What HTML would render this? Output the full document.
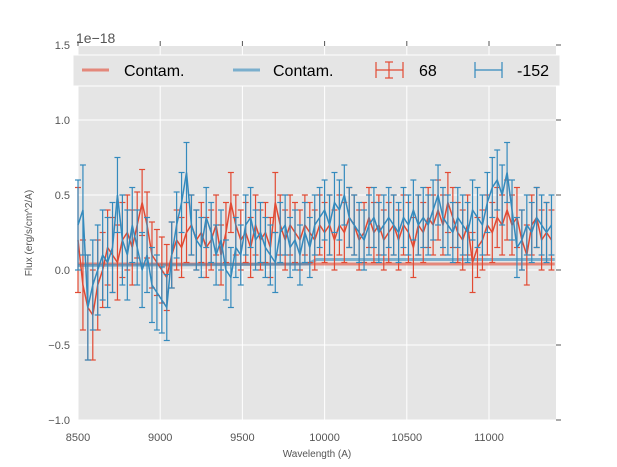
<!DOCTYPE html>
<html><head><meta charset="utf-8"><style>
body{margin:0;background:#fff;}
svg{display:block;font-family:"Liberation Sans",sans-serif;}
</style></head><body>
<svg id="chart" width="617" height="467">
<rect x="78" y="46" width="478" height="374" fill="#e5e5e5"/>
<g id="grid"></g><g id="ticks"></g><g id="series"></g>
<text x="76" y="43" font-size="14" fill="#555">1e−18</text>
<text x="317" y="457" font-size="10" fill="#555" text-anchor="middle">Wavelength (A)</text>
<text transform="translate(32,233) rotate(-90)" font-size="10" fill="#555" text-anchor="middle">Flux (erg/s/cm^2/A)</text>
<g>
<rect x="73" y="55" width="487" height="31" fill="#e5e5e5" stroke="#fff" stroke-width="1"/>
<line x1="82" y1="70" x2="109" y2="70" stroke="#E24A33" stroke-opacity="0.6" stroke-width="3"/>
<text x="124" y="76" font-size="16">Contam.</text>
<line x1="233" y1="70" x2="260" y2="70" stroke="#348ABD" stroke-opacity="0.6" stroke-width="3"/>
<text x="273" y="76" font-size="16">Contam.</text>
<g stroke="#E24A33" stroke-width="1.2"><line x1="376" y1="70" x2="403" y2="70"/><line x1="389" y1="62" x2="389" y2="78"/><line x1="385" y1="62" x2="393" y2="62"/><line x1="385" y1="78" x2="393" y2="78"/><line x1="376" y1="62" x2="376" y2="78"/><line x1="403" y1="62" x2="403" y2="78"/></g>
<text x="419" y="76" font-size="16">68</text>
<g stroke="#348ABD" stroke-width="1.2"><line x1="475" y1="70" x2="502" y2="70"/><line x1="475" y1="62" x2="475" y2="78"/><line x1="502" y1="62" x2="502" y2="78"/></g>
<text x="517" y="76" font-size="16">-152</text>
</g>
</svg>
<script>
const xTicks=[8500,9000,9500,10000,10500,11000];
const yTicks=[-1.0,-0.5,0.0,0.5,1.0,1.5];
const yTickLabels=["−1.0","−0.5","0.0","0.5","1.0","1.5"];
const wlStart=8500, wlStep=30;
const flux68=[0.2,-0.1,-0.25,-0.3,-0.1,0.0,0.15,0.1,0.05,0.2,0.25,0.15,0.3,0.45,0.3,0.1,0.05,0.0,-0.05,0.1,0.2,0.15,0.25,0.3,0.2,0.25,0.15,0.2,0.3,0.1,0.25,0.45,0.3,0.2,0.25,0.15,0.3,0.2,0.25,0.15,0.45,0.3,0.2,0.3,0.25,0.2,0.3,0.25,0.2,0.3,0.25,0.3,0.2,0.3,0.25,0.35,0.3,0.2,0.25,0.35,0.25,0.3,0.2,0.25,0.3,0.2,0.3,0.25,0.15,0.3,0.25,0.35,0.3,0.4,0.3,0.45,0.35,0.25,0.2,0.3,0.05,0.15,0.2,0.3,0.25,0.35,0.3,0.4,0.3,0.35,0.2,0.1,0.3,0.35,0.2,0.25,0.2];
const err68=[0.35,0.3,0.35,0.3,0.3,0.25,0.25,0.25,0.25,0.25,0.25,0.25,0.22,0.22,0.22,0.22,0.22,0.22,0.22,0.22,0.2,0.2,0.2,0.2,0.2,0.2,0.2,0.2,0.2,0.2,0.2,0.2,0.2,0.2,0.2,0.2,0.2,0.2,0.2,0.2,0.2,0.2,0.2,0.2,0.2,0.2,0.2,0.2,0.2,0.2,0.2,0.2,0.2,0.2,0.2,0.2,0.2,0.2,0.2,0.2,0.2,0.2,0.2,0.2,0.2,0.2,0.2,0.2,0.2,0.2,0.2,0.2,0.2,0.2,0.2,0.2,0.2,0.2,0.2,0.2,0.2,0.2,0.2,0.2,0.2,0.2,0.2,0.2,0.2,0.2,0.2,0.2,0.2,0.2,0.2,0.2,0.2];
const flux152=[0.3,0.4,-0.25,-0.1,0.0,0.1,0.05,0.15,0.5,0.2,0.1,0.3,0.15,0.0,0.1,-0.1,-0.15,-0.2,-0.25,0.1,0.3,0.45,0.65,0.3,0.2,0.15,0.35,0.25,0.1,0.2,0.0,-0.05,0.15,0.1,0.3,0.35,0.2,0.25,0.15,0.1,0.05,0.25,0.3,0.15,0.2,0.1,0.25,0.15,0.3,0.35,0.4,0.3,0.45,0.4,0.5,0.35,0.3,0.25,0.2,0.3,0.35,0.25,0.3,0.35,0.3,0.25,0.35,0.3,0.4,0.3,0.35,0.3,0.4,0.5,0.35,0.3,0.25,0.35,0.3,0.25,0.4,0.35,0.3,0.45,0.55,0.6,0.5,0.65,0.4,0.15,0.2,0.3,0.25,0.35,0.3,0.25,0.3];
const err152=[0.3,0.3,0.35,0.3,0.3,0.3,0.3,0.3,0.25,0.3,0.3,0.25,0.25,0.25,0.25,0.25,0.25,0.22,0.22,0.22,0.22,0.2,0.2,0.2,0.2,0.2,0.2,0.2,0.2,0.2,0.2,0.2,0.2,0.2,0.2,0.2,0.2,0.2,0.2,0.2,0.2,0.2,0.2,0.2,0.2,0.2,0.2,0.2,0.2,0.2,0.2,0.2,0.2,0.2,0.2,0.2,0.2,0.2,0.2,0.2,0.2,0.2,0.2,0.2,0.2,0.2,0.2,0.2,0.2,0.2,0.2,0.2,0.2,0.2,0.2,0.2,0.2,0.2,0.2,0.2,0.2,0.2,0.2,0.2,0.2,0.2,0.2,0.2,0.2,0.2,0.2,0.2,0.2,0.2,0.2,0.2,0.2];
const contamRedX=[8500,11400];
const contamRed=[0.04,0.04];
const contamBlueX=[8500,9900,9950,11400];
const contamBlue=[0.03,0.04,0.07,0.07];

const NS="http://www.w3.org/2000/svg";
const X=w=>78+(w-8500)/500*82.2;
const Y=v=>270-v*150;
function mk(tag,attrs,parent){const e=document.createElementNS(NS,tag);for(const k in attrs)e.setAttribute(k,attrs[k]);parent.appendChild(e);return e;}
const grid=document.getElementById('grid'),ticks=document.getElementById('ticks'),series=document.getElementById('series');
xTicks.forEach(t=>{
  const g=mk('line',{x1:X(t),x2:X(t),y1:46,y2:420,stroke:'#fff'},grid);
  
  
  mk('line',{x1:X(t),x2:X(t),y1:41,y2:46,stroke:'#555'},ticks);
  const l=mk('text',{x:X(t),y:441,'font-size':11,fill:'#555','text-anchor':'middle'},ticks);
  l.textContent=t;
  
  
});
yTicks.forEach((t,i)=>{
  const g=mk('line',{x1:78,x2:556,y1:Y(t),y2:Y(t),stroke:'#fff'},grid);
  
  
  mk('line',{x1:556,x2:561,y1:Y(t),y2:Y(t),stroke:'#555'},ticks);
  const l=mk('text',{x:70,y:Y(t)+4,'font-size':11,fill:'#555','text-anchor':'end'},ticks);
  l.textContent=yTickLabels[i];
  
  
});
function line(xs,vs,color,w,op,name){
  const p=mk('polyline',{points:xs.map((x,i)=>X(x)+','+Y(vs[i])).join(' '),fill:'none',stroke:color,'stroke-width':w,'stroke-opacity':op},series);
  
  
}
function errSeries(vals,errs,color,name){
  const g=mk('g',{stroke:color,'stroke-width':1.2},series);
  
  
  const xs=vals.map((v,i)=>wlStart+wlStep*i);
  vals.forEach((v,i)=>{
    const x=X(xs[i]),y1=Y(v+errs[i]),y2=Y(v-errs[i]);
    mk('line',{x1:x,x2:x,y1:y1,y2:y2},g);
    mk('line',{x1:x-3,x2:x+3,y1:y1,y2:y1},g);
    mk('line',{x1:x-3,x2:x+3,y1:y2,y2:y2},g);
  });
  mk('polyline',{points:xs.map((x,i)=>X(x)+','+Y(vals[i])).join(' '),fill:'none','stroke-width':1.5},g);
}
line(contamRedX,contamRed,'#E24A33',3,0.6,'contam-red-line');
line(contamBlueX,contamBlue,'#348ABD',3,0.6,'contam-blue-line');
errSeries(flux68,err68,'#E24A33','series-68');
errSeries(flux152,err152,'#348ABD','series-minus152');
</script>
</body></html>
